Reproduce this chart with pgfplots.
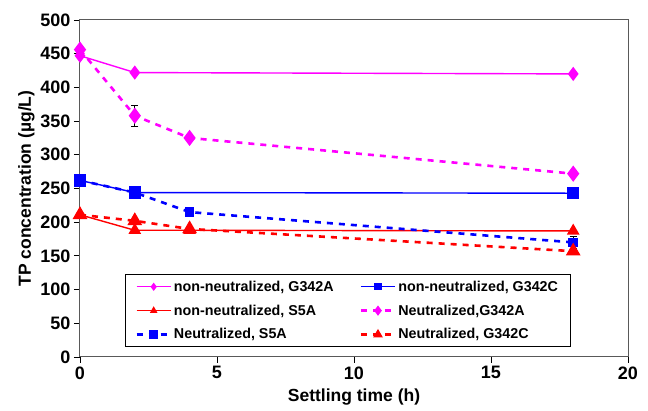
\documentclass[border=0pt]{standalone}
\usepackage{pgfplots}
\pgfplotsset{compat=1.18}
\usepackage{fontspec}
\setmainfont{Liberation Sans}
\definecolor{mag}{RGB}{255,0,255}
\definecolor{blu}{RGB}{0,0,255}
\definecolor{rd}{RGB}{255,0,0}
\begin{document}
\begin{tikzpicture}
\begin{axis}[
    scale only axis,
    width=548pt, height=337pt,
    xmin=0, xmax=20, ymin=0, ymax=500,
    xtick={0,5,...,20}, ytick={0,50,...,500},
    tick align=outside, tick pos=left,
    axis line style={gray!70!black, line width=1pt},
    major tick length=6pt,
    tick style={black, line width=0.9pt},
    ticklabel style={font=\fontsize{18}{20}\selectfont\bfseries},
    /pgf/number format/assume math mode=true,
    xlabel={Settling time (h)},
    ylabel={TP concentration (\textmu g/L)},
    label style={font=\fontsize{17.5}{19}\selectfont\bfseries},
    xlabel style={yshift=-3pt},
    ylabel style={yshift=-1pt},
    clip=false,
    legend columns=2,
    legend cell align=left,
    legend style={at={(rel axis cs:0.082,0.03)}, anchor=south west,
        draw=black, line width=0.9pt,
        font=\fontsize{14.3}{16}\selectfont\bfseries,
        row sep=8pt, /tikz/column 2/.style={column sep=24pt},
        inner xsep=10pt, inner ysep=4pt},
    legend image code/.code={\draw[mark repeat=2,mark phase=2]
        plot coordinates {(0pt,0pt) (17pt,0pt) (34pt,0pt)};},
    legend image post style={mark size=3pt},
]
% non-neutralized, G342A
\addplot[mag, line width=1.4pt, mark=diamond*, mark size=6pt] coordinates {
    (0,447) (2,422) (18,420)};
\addlegendentry{non-neutralized, G342A}
% non-neutralized, G342C
\addplot[blu, line width=1.4pt, mark=square*, mark size=5.5pt] coordinates {
    (0,262) (2,244) (18,243)};
\addlegendentry{non-neutralized, G342C}
% non-neutralized, S5A
\addplot[rd, line width=1.4pt, mark=triangle*, mark size=6pt] coordinates {
    (0,211) (2,188) (4,188) (18,187)};
\addlegendentry{non-neutralized, S5A}
% Neutralized, G342A
\addplot[mag, line width=2.6pt, dash pattern=on 6pt off 6pt,
    mark=diamond*, mark size=6pt, mark options={solid},
    error bars/.cd, y dir=both, y explicit,
    error bar style={black, line width=0.8pt, solid}, error mark options={black, rotate=90, mark size=3.5pt}]
    coordinates {
    (0,456) +- (0,0)
    (2,358) +- (0,15)
    (4,325) +- (0,4)
    (18,272) +- (0,0)};
\addlegendentry{Neutralized,G342A}
% Neutralized, S5A
\addplot[blu, line width=2.6pt, dash pattern=on 6pt off 6pt,
    mark=square*, mark size=3.5pt, mark options={solid},
    error bars/.cd, y dir=both, y explicit,
    error bar style={black, line width=0.8pt, solid}, error mark options={black, rotate=90, mark size=3.5pt}]
    coordinates {
    (0,262) +- (0,0)
    (2,244) +- (0,0)
    (4,215) +- (0,0)
    (18,170) +- (0,9)};
\addlegendentry{Neutralized, S5A}
% Neutralized, G342C
\addplot[rd, line width=2.6pt, dash pattern=on 6pt off 6pt,
    mark=triangle*, mark size=6pt, mark options={solid}] coordinates {
    (0,211) (2,202) (4,190) (18,157)};
\addlegendentry{Neutralized, G342C}
% plot frame top and right
\draw[gray!70!black, line width=1pt] (rel axis cs:0,1) -- (rel axis cs:1,1) -- (rel axis cs:1,0);
% page margins as in the reference
\path ([xshift=-80pt,yshift=-54pt]rel axis cs:0,0) rectangle ([xshift=20pt,yshift=20pt]rel axis cs:1,1);
\end{axis}
\end{tikzpicture}
\end{document}
